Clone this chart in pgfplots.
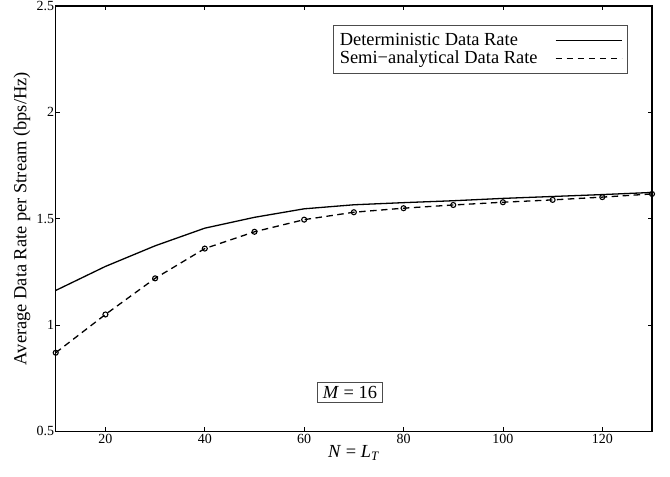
\documentclass[border=0pt]{standalone}
\usepackage{fontspec}
\setmainfont{Liberation Serif}
\usepackage{pgfplots}
\pgfplotsset{compat=1.18}

\newcommand{\bigfont}{\fontsize{18.5}{22}\selectfont}

\begin{document}
\fontsize{14}{16}\selectfont
\begin{tikzpicture}
\begin{axis}[
    scale only axis,
    width=596bp, height=425bp,
    xmin=10, xmax=130, ymin=0.5, ymax=2.5,
    xtick={20,40,...,120},
    ytick={0.5,1,1.5,2,2.5},
    tick align=inside,
    major tick length=4bp,
    tick style={black, line width=0.6bp},
    axis line style={line width=1.2bp},
    /pgf/number format/assume math mode=true,
    yticklabel style={inner xsep=1.5bp},
    xticklabel style={inner ysep=3bp},
    label style={font=\bigfont},
    xlabel={\textit{N} = \textit{L}\textsubscript{\textit{T}}},
    ylabel={Average Data Rate per Stream (bps/Hz)},
    xlabel style={yshift=6bp},
    ylabel style={yshift=0bp},
    legend plot pos=right,
    legend cell align=left,
    legend style={at={(0.465,0.955)}, anchor=north west, font=\bigfont,
        draw=black!70, line width=0.6bp, inner xsep=5bp, inner ysep=6.5bp,
        row sep=0bp, column sep=16bp,
        nodes={inner sep=1.5bp}},
    legend image code/.code={\draw[#1, mark=none] (0bp,0bp) -- (66bp,0bp);},
]
\addplot[black, line width=1.3bp] coordinates {
    (10,1.162) (20,1.275) (30,1.372) (40,1.455) (50,1.506) (60,1.546)
    (70,1.565) (80,1.575) (90,1.584) (100,1.595) (110,1.604) (120,1.613) (130,1.623)
};
\addplot[black, line width=1.3bp, dash pattern=on 6.5bp off 4.5bp,
    mark=o, mark size=2.5bp, mark options={solid, line width=1.1bp}] coordinates {
    (10,0.869) (20,1.049) (30,1.219) (40,1.359) (50,1.438) (60,1.495)
    (70,1.530) (80,1.549) (90,1.564) (100,1.577) (110,1.588) (120,1.601) (130,1.616)
};
\legend{Deterministic Data Rate, Semi−analytical Data Rate}
\node[draw=black!70, line width=0.6bp, inner xsep=5bp, inner ysep=4bp, fill=white, font=\bigfont]
    at (axis cs:69.2,0.684) {\textit{M} = 16};
\end{axis}
\pgfresetboundingbox
\path (current axis.south west) ++(-55.7bp,-45bp) coordinate (bbA);
\path (current axis.north east) ++(18bp,6bp) coordinate (bbB);
\path (bbA) rectangle (bbB);
\end{tikzpicture}
\end{document}
